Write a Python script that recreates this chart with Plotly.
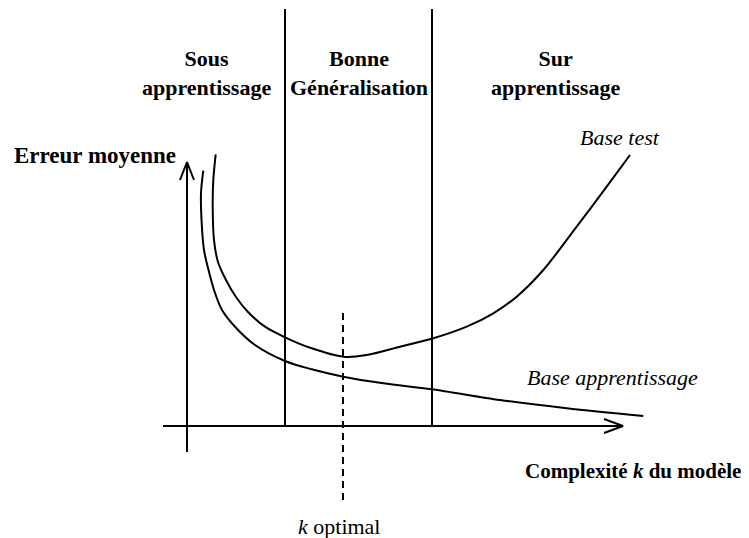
import plotly.graph_objects as go

# Data in schematic units (complexity k on x, mean error on y)
test_k = [2.87, 2.63, 2.57, 2.70, 3.10, 3.90, 4.90, 6.10, 7.80, 9.80, 12.47, 15.63, 17.97,
          21.3, 24.47, 27.97, 30.63, 32.97, 35.63, 38.97, 41.97, 44.3]
test_err = [27.17, 24.6, 21.93, 18.6, 16.4, 14.6, 12.9, 11.4, 9.93, 8.87, 7.77, 6.93, 7.1,
            7.93, 8.72, 9.93, 11.27, 12.93, 15.6, 19.93, 23.93, 27.1]
train_k = [1.63, 1.40, 1.47, 1.70, 2.15, 2.70, 3.50, 4.80, 6.80, 9.80, 12.47, 15.63, 19.63,
           24.47, 31.3, 37.97, 45.63]
train_err = [25.53, 23.27, 20.27, 17.6, 15.6, 13.6, 11.6, 9.93, 8.1, 6.5, 5.67, 4.93, 4.27,
             3.67, 2.6, 1.77, 1.0]

regime_bounds = [9.8, 24.5]
regime_top = 41.7
k_opt = 15.6
k_opt_span = [11.3, -7.9]
x_axis_span = [-2.4, 43.6]
y_axis_span = [-2.6, 26.4]

regime_labels = ["Sous<br>apprentissage", "Bonne<br>Généralisation", "Sur<br>apprentissage"]
regime_label_x = [1.9, 17.2, 36.8]

FONT = "Liberation Serif"
LW = 2
fig = go.Figure()

def line(xs, ys, dash=None, shape="linear", w=LW):
    fig.add_trace(go.Scatter(x=xs, y=ys, mode="lines", hoverinfo="skip",
                             line=dict(color="black", width=w, dash=dash, shape=shape,
                                       smoothing=0.9 if shape == "spline" else None),
                             showlegend=False))

# axes
line(x_axis_span, [0, 0])
line([0, 0], y_axis_span)
# arrowheads (open V)
line([x_axis_span[1] - 1.9, x_axis_span[1], x_axis_span[1] - 1.9], [0.7, 0, -0.7])
line([-0.7, 0, 0.7], [y_axis_span[1] - 1.8, y_axis_span[1], y_axis_span[1] - 1.8])
# regime separators
for b in regime_bounds:
    line([b, b], [0, regime_top])
# k optimal dashed
line([k_opt, k_opt], k_opt_span, dash="7px,5px")
# curves
line(test_k, test_err, shape="spline")
line(train_k, train_err, shape="spline")

def ann(text, x, y, xanchor="center", size=22):
    fig.add_annotation(x=x, y=y, text=text, showarrow=False, xanchor=xanchor,
                       yanchor="middle", align="center",
                       font=dict(family=FONT, size=size, color="black"))

for lab, lx in zip(regime_labels, regime_label_x):
    ann("<b>" + lab + "</b>", lx, 35.35)
ann("<b>Erreur moyenne</b>", -17.5, 27.1, xanchor="left", size=23)
ann("<i>Base test</i>", 43.25, 28.9)
ann("<i>Base apprentissage</i>", 42.55, 4.9)
ann("<b>Complexité <i>k</i> du modèle</b>", 33.6, -4.5, xanchor="left", size=21)
ann("<i>k</i> optimal", 15.15, -10.0)

# the page body has an 8px margin, so the data window is offset accordingly
fig.update_layout(
    width=749, height=538, margin=dict(l=0, r=0, t=0, b=0),
    paper_bgcolor="white", plot_bgcolor="white",
    xaxis=dict(range=[-17.9, 57.0], visible=False, fixedrange=True),
    yaxis=dict(range=[-12.0, 41.8], visible=False, fixedrange=True),
    showlegend=False,
)
fig.write_html("out.html")
